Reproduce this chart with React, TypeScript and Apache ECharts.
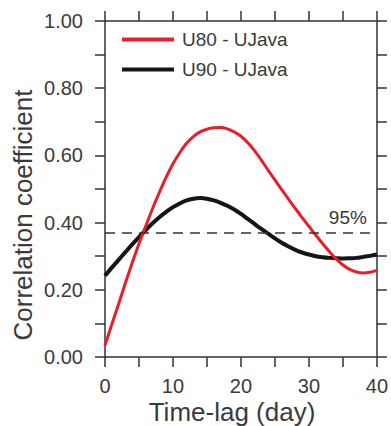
import React, { useEffect, useRef } from 'react';
import * as echarts from 'echarts';

const days = Array.from({ length: 41 }, (_, i) => i);
const u80 = [
  0.035, 0.097, 0.158, 0.22, 0.28, 0.337, 0.39, 0.442, 0.49, 0.535,
  0.575, 0.608, 0.636, 0.656, 0.67, 0.678, 0.682, 0.683, 0.679, 0.67,
  0.657, 0.638, 0.614, 0.586, 0.556, 0.527, 0.498, 0.47, 0.442, 0.415,
  0.389, 0.363, 0.338, 0.314, 0.292, 0.274, 0.261, 0.253, 0.25, 0.252, 0.258,
];
const u90 = [
  0.242, 0.266, 0.289, 0.312, 0.335, 0.357, 0.378, 0.398, 0.416, 0.432,
  0.446, 0.457, 0.466, 0.471, 0.473, 0.471, 0.466, 0.459, 0.45, 0.439,
  0.426, 0.411, 0.396, 0.381, 0.367, 0.353, 0.34, 0.329, 0.319, 0.311,
  0.305, 0.3, 0.297, 0.295, 0.294, 0.293, 0.294, 0.295, 0.298, 0.301, 0.305,
];
const threshold95 = 0.37;
const seriesNames = ['U80 - UJava', 'U90 - UJava'];
const xTitle = 'Time-lag (day)';
const yTitle = 'Correlation coefficient';

const TEXT = '#3a3a3a';
const AXIS = '#333333';
const FONT = 'Liberation Sans, Arial, Helvetica, sans-serif';

export default function App() {
  const ref = useRef<HTMLDivElement>(null);
  useEffect(() => {
    document.body.style.margin = '0';
    const chart = echarts.init(ref.current!, null, { renderer: 'svg' });
    const axisLine = { show: true, onZero: false, lineStyle: { color: AXIS, width: 1.5 } };
    const tick = { show: true, inside: false, length: 10, lineStyle: { color: AXIS, width: 1.5 } };
    const minor = { show: true, splitNumber: 2, length: 10, lineStyle: { color: AXIS, width: 1.5 } };
    chart.setOption({
      animation: false,
      backgroundColor: '#ffffff',
      textStyle: { fontFamily: FONT },
      grid: { left: 105, right: 10, top: 21, bottom: 69, containLabel: false },
      legend: {
        orient: 'vertical',
        left: 122,
        top: 30,
        padding: 0,
        itemWidth: 52,
        itemHeight: 4,
        itemGap: 11,
        icon: 'rect',
        textStyle: { fontSize: 19, color: TEXT, fontFamily: FONT, lineHeight: 19, padding: [0, 0, 0, 3] },
        data: seriesNames,
      },
      xAxis: [
        {
          type: 'value', min: 0, max: 40, interval: 10, position: 'bottom',
          axisLine, axisTick: tick, minorTick: minor, splitLine: { show: false }, minorSplitLine: { show: false },
          axisLabel: { fontSize: 20, color: TEXT, margin: 19, fontFamily: FONT },
        },
        {
          type: 'value', min: 0, max: 40, interval: 10, position: 'top',
          axisLine, axisTick: tick, minorTick: minor, splitLine: { show: false }, minorSplitLine: { show: false },
          axisLabel: { show: false },
        },
      ],
      yAxis: [
        {
          type: 'value', min: 0, max: 1, interval: 0.2, position: 'left',
          axisLine, axisTick: tick, minorTick: minor, splitLine: { show: false }, minorSplitLine: { show: false },
          axisLabel: { fontSize: 20, color: TEXT, margin: 22, fontFamily: FONT, formatter: (v: number) => v.toFixed(2) },
        },
        {
          type: 'value', min: 0, max: 1, interval: 0.2, position: 'right',
          axisLine, axisTick: tick, minorTick: minor, splitLine: { show: false }, minorSplitLine: { show: false },
          axisLabel: { show: false },
        },
      ],
      graphic: [
        {
          type: 'text', x: 23, y: 215, rotation: Math.PI / 2,
          style: { text: yTitle, fontSize: 26, fill: TEXT, fontFamily: FONT, align: 'center', verticalAlign: 'middle' },
        },
        {
          type: 'text', x: 232, y: 412,
          style: { text: xTitle, fontSize: 26, fill: TEXT, fontFamily: FONT, align: 'center', verticalAlign: 'middle' },
        },
      ],
      series: [
        {
          name: seriesNames[0], type: 'line', smooth: 0.3, showSymbol: false,
          color: '#e5202a',
          lineStyle: { color: '#e5202a', width: 3 },
          data: days.map((d, i) => [d, u80[i]]),
          z: 3,
          markLine: {
            silent: true, symbol: 'none',
            lineStyle: { color: AXIS, type: [10, 7], width: 1.5 },
            label: { show: true, position: 'insideEndTop', formatter: '95%', fontSize: 19, color: TEXT, fontFamily: FONT, distance: [10, 6] },
            data: [{ yAxis: threshold95 }],
          },
        },
        {
          name: seriesNames[1], type: 'line', smooth: 0.3, showSymbol: false,
          color: '#151515',
          lineStyle: { color: '#151515', width: 4 },
          data: days.map((d, i) => [d, u90[i]]),
          z: 2,
        },
      ],
    });
    return () => chart.dispose();
  }, []);
  return <div ref={ref} style={{ width: 391, height: 426, position: 'absolute', left: 0, top: 0 }} />;
}
